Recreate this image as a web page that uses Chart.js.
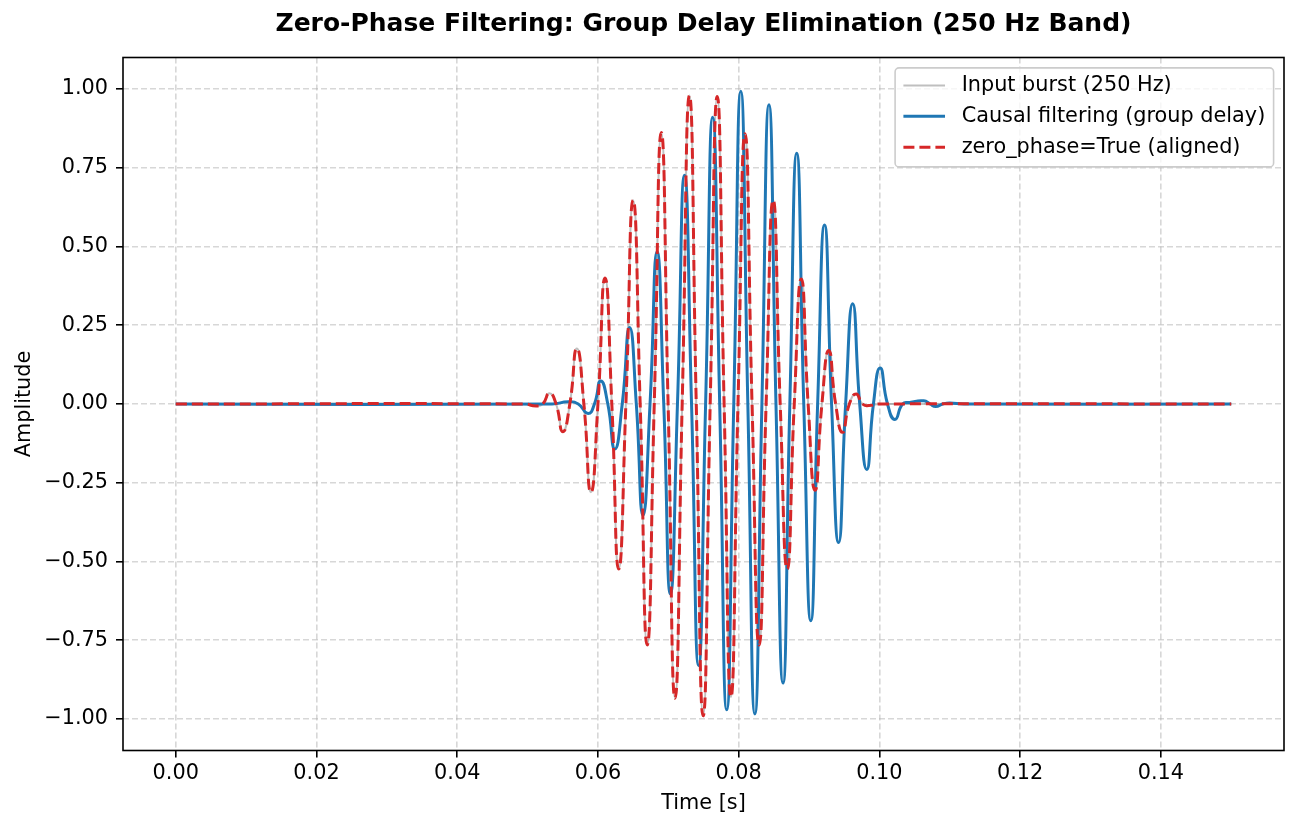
<!DOCTYPE html>
<html>
<head>
<meta charset="utf-8">
<script src="https://cdn.jsdelivr.net/npm/chart.js@4.4.1/dist/chart.umd.min.js"></script>
<style>
  html, body { margin: 0; padding: 0; background: #fff; }
  #wrap { width: 1300px; height: 831px; position: relative; }
</style>
</head>
<body>
<div id="wrap"><canvas id="chart"></canvas></div>
<script>
'use strict'

const ctx = document.getElementById('chart')

const titleText = 'Zero-Phase Filtering: Group Delay Elimination (250 Hz Band)'

// times in ms at peaks, troughs and zero crossings
const zeroPhaseMs = [
  0, 49.5, 51.2, 52.15, 53.1, 54.05, 55.0, 56.0, 57.0, 58.0,
  59.0, 60.0, 61.0, 61.97, 62.95, 63.97, 65.0, 66.0, 67.0, 68.0,
  69.0, 69.97, 70.95, 71.97, 73.0, 73.97, 74.95, 75.95, 76.95, 77.93,
  78.9, 79.9, 80.9, 81.9, 82.9, 83.9, 84.9, 85.9, 86.9, 87.9,
  88.9, 89.87, 90.85, 91.83, 92.8, 93.78, 94.75, 95.73, 96.7, 97.6,
  98.5, 100, 150,
]
const zeroPhaseAmp = [
  0, 0, -0.006, 0, 0.034, 0, -0.088, 0, 0.176, 0,
  -0.28, 0, 0.40, 0, -0.524, 0, 0.647, 0, -0.765, 0,
  0.862, 0, -0.934, 0, 0.979, 0, -0.99, 0, 0.976, 0,
  -0.93, 0, 0.858, 0, -0.765, 0, 0.647, 0, -0.524, 0,
  0.397, 0, -0.274, 0, 0.17, 0, -0.09, 0, 0.032, 0,
  -0.005, 0, 0,
]

const causalMs = [
  0, 53.5, 55.8, 57.2, 58.6, 59.5, 60.4, 61.4, 62.4, 63.45,
  64.5, 65.45, 66.4, 67.4, 68.4, 69.35, 70.3, 71.3, 72.3, 73.3,
  74.3, 75.3, 76.3, 77.3, 78.3, 79.3, 80.3, 81.3, 82.3, 83.3,
  84.3, 85.3, 86.3, 87.27, 88.25, 89.25, 90.25, 91.22, 92.2, 93.2,
  94.2, 95.2, 96.2, 97.2, 98.2, 99.15, 100.1, 101.15, 102.2, 103.3,
  104.3, 106.3, 107.2, 108.0, 109.0, 110.0, 112.0, 150,
]
const causalAmp = [
  0, 0, 0.007, 0, -0.03, 0, 0.073, 0, -0.143, 0,
  0.243, 0, -0.353, 0, 0.483, 0, -0.603, 0, 0.726, 0,
  -0.83, 0, 0.91, 0, -0.971, 0, 0.993, 0, -0.984, 0,
  0.95, 0, -0.886, 0, 0.796, 0, -0.688, 0, 0.568, 0,
  -0.44, 0, 0.318, 0, -0.208, 0, 0.114, 0, -0.049, 0,
  0.005, 0.01, 0, -0.008, 0, 0.003, 0, 0,
]

// the input burst lies exactly under the zero-phase trace
const inputMs = zeroPhaseMs
const inputAmp = zeroPhaseAmp

const xTicks = [0, 0.02, 0.04, 0.06, 0.08, 0.10, 0.12, 0.14]
const yTicks = [-1, -0.75, -0.5, -0.25, 0, 0.25, 0.5, 0.75, 1]

const toPoints = (ms, amp) => ms.map((t, i) => ({x: t / 1000, y: amp[i]}))

const FS = 20.8
const FONT = 'DejaVu Sans'
Chart.defaults.font.family = FONT
Chart.defaults.font.size = FS
Chart.defaults.color = '#000'

const data = {
  datasets: [{
    label: 'Input burst (250 Hz)',
    data: toPoints(inputMs, inputAmp),
    borderColor: 'rgba(128, 128, 128, 0.5)',
    borderWidth: 2,
    order: 3,
  }, {
    label: 'Causal filtering (group delay)',
    data: toPoints(causalMs, causalAmp),
    borderColor: '#1f77b4',
    borderWidth: 3,
    order: 2,
  }, {
    label: 'zero_phase=True (aligned)',
    data: toPoints(zeroPhaseMs, zeroPhaseAmp),
    borderColor: '#d62728',
    borderWidth: 3,
    borderDash: [11, 5],
    order: 1,
  }]
}

const gridOpts = {
  color: 'rgba(176, 176, 176, 0.5)',
  lineWidth: 1.6,
  tickColor: '#000',
  tickWidth: 1.6,
  tickLength: 7,
}

// matplotlib-like box around the axes
const frame = {
  id: 'frame',
  afterDatasetsDraw(chart) {
    const {ctx, chartArea: a} = chart
    ctx.save()
    ctx.strokeStyle = '#000'
    ctx.lineWidth = 1.6
    ctx.strokeRect(a.left, a.top, a.right - a.left, a.bottom - a.top)
    ctx.restore()
  }
}

const titleAndLegend = {
  id: 'titleAndLegend',
  afterDraw(chart) {
    const {ctx, chartArea: a} = chart
    ctx.save()
    ctx.fillStyle = '#000'
    ctx.font = `bold 25px "${FONT}"`
    ctx.textAlign = 'center'
    ctx.textBaseline = 'middle'
    ctx.fillText(titleText, (a.left + a.right) / 2, 24)

    // legend, upper right inside the axes
    ctx.font = `${FS}px "${FONT}"`
    const sets = chart.data.datasets
    const textW = Math.max(...sets.map(d => ctx.measureText(d.label).width))
    const pad = 0.4 * FS, handle = 2 * FS, gap = 0.8 * FS, rowH = 1.48 * FS
    const w = pad + handle + gap + textW + pad
    const h = 2 * pad + rowH * sets.length - 0.48 * FS
    const x = a.right - 0.5 * FS - w
    const y = a.top + 0.5 * FS
    ctx.beginPath()
    ctx.roundRect(x, y, w, h, 4)
    ctx.fillStyle = 'rgba(255, 255, 255, 0.8)'
    ctx.fill()
    ctx.strokeStyle = '#cccccc'
    ctx.lineWidth = 1.6
    ctx.stroke()
    ctx.textAlign = 'left'
    sets.forEach((d, i) => {
      const cy = y + pad + 0.45 * FS + i * rowH
      ctx.beginPath()
      ctx.setLineDash(d.borderDash || [])
      ctx.strokeStyle = d.borderColor
      ctx.lineWidth = d.borderWidth
      ctx.moveTo(x + pad, cy)
      ctx.lineTo(x + pad + handle, cy)
      ctx.stroke()
      ctx.setLineDash([])
      ctx.fillStyle = '#000'
      ctx.fillText(d.label, x + pad + handle + gap, cy)
    })
    ctx.restore()
  }
}

const options = {
  responsive: true,
  maintainAspectRatio: false,
  animation: false,
  layout: { padding: { top: 57.5, right: 16, left: 0, bottom: 0 } },
  elements: {
    point: { radius: 0 },
    line: { tension: 0.55, fill: false },
  },
  plugins: {
    legend: { display: false },
    title: { display: false },
    tooltip: { enabled: false },
  },
  scales: {
    x: {
      type: 'linear',
      min: -0.0075,
      max: 0.1575,
      afterBuildTicks: s => { s.ticks = xTicks.map(v => ({value: v})) },
      afterFit: s => { s.height = 80.5 },
      grid: gridOpts,
      border: { display: false, dash: [6, 3] },
      ticks: {
        autoSkip: false,
        maxRotation: 0,
        padding: 4,
        callback: v => v.toFixed(2),
      },
      title: { display: true, text: 'Time [s]', padding: { top: 0, bottom: 15 } },
    },
    y: {
      type: 'linear',
      min: -1.1,
      max: 1.1,
      afterBuildTicks: s => { s.ticks = yTicks.map(v => ({value: v})) },
      afterFit: s => { s.width = 123 },
      grid: gridOpts,
      border: { display: false, dash: [6, 3] },
      ticks: {
        autoSkip: false,
        padding: 8,
        callback: v => (v < 0 ? '\u2212' : '') + Math.abs(v).toFixed(2),
      },
      title: { display: true, text: 'Amplitude', padding: { top: 12.5, bottom: 0 } },
    },
  },
}

const chart = new Chart(ctx, {
  type: 'line',
  data: data,
  options: options,
  plugins: [frame, titleAndLegend],
})
</script>
</body>
</html>
